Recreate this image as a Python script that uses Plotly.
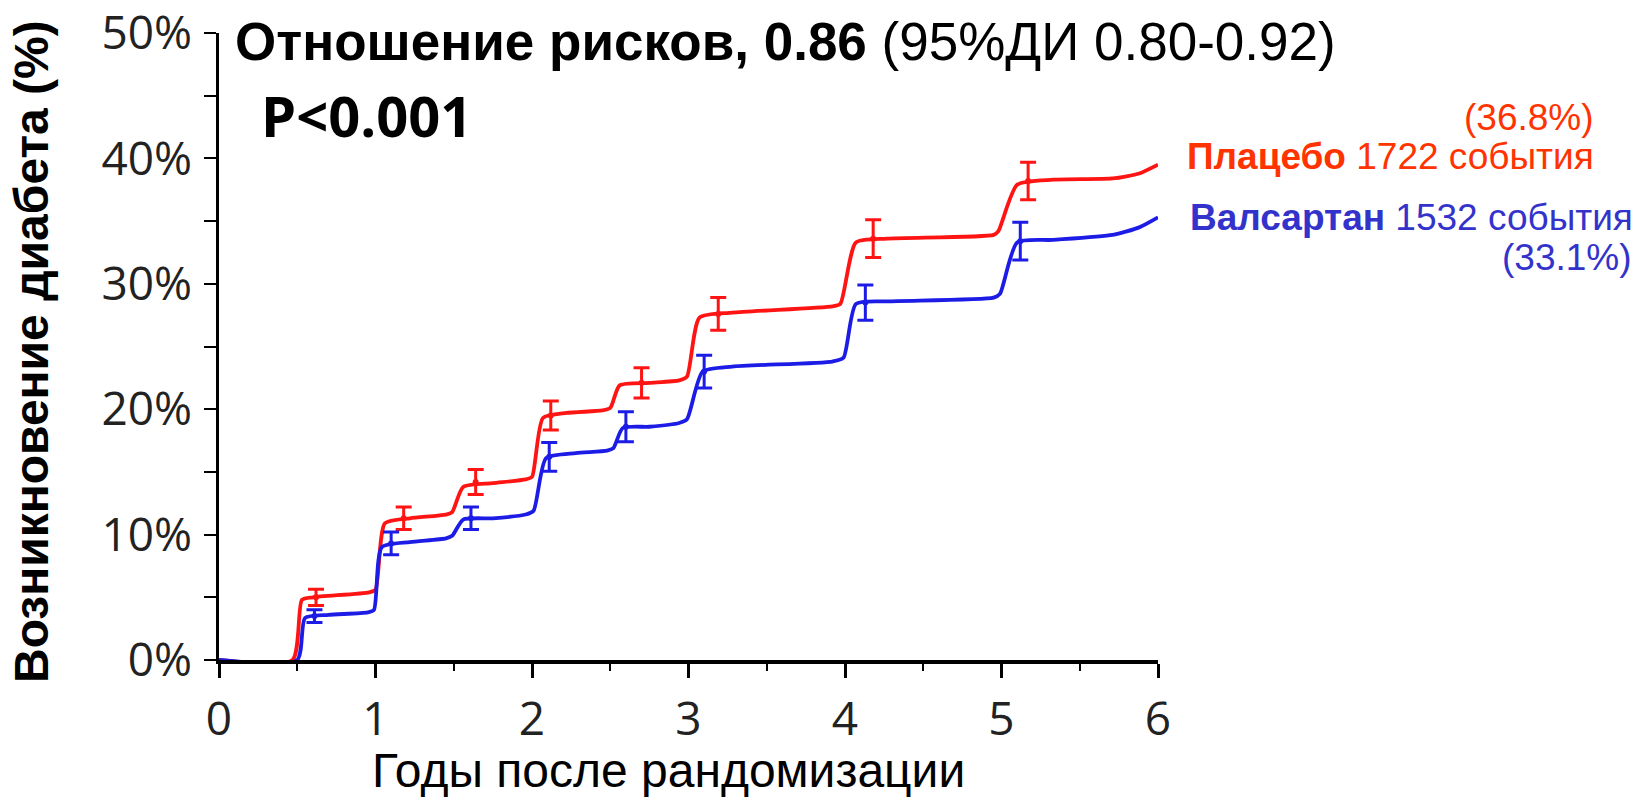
import plotly.graph_objects as go

# ---- data ----
placebo_years = [0, 0.47, 0.53, 0.60, 0.96, 1.00, 1.06, 1.22, 1.45, 1.49, 1.56, 1.75, 1.96, 2.00,
                 2.07, 2.22, 2.45, 2.50, 2.56, 2.75, 2.94, 2.99, 3.07, 3.28, 3.92, 3.97, 4.07,
                 4.27, 4.95, 4.98, 5.10, 5.33, 5.71, 5.88, 6.00]
placebo_pct = [0, 0, 4.8, 5.0, 5.4, 5.6, 10.9, 11.3, 11.6, 11.8, 13.8, 14.1, 14.4, 14.6,
               19.3, 19.7, 19.9, 20.1, 21.9, 22.1, 22.3, 22.6, 27.3, 27.7, 28.2, 28.4, 33.3,
               33.6, 33.9, 34.2, 37.9, 38.3, 38.4, 38.8, 39.5]

valsartan_years = [0, 0.50, 0.55, 0.70, 0.95, 0.99, 1.04, 1.22, 1.45, 1.49, 1.56, 1.75, 1.96, 2.01,
                   2.09, 2.28, 2.48, 2.52, 2.58, 2.75, 2.94, 2.99, 3.09, 3.28, 3.92, 3.99, 4.07,
                   4.27, 4.95, 4.99, 5.10, 5.33, 5.71, 5.88, 6.00]
valsartan_pct = [0, 0, 3.35, 3.6, 3.8, 4.0, 9.0, 9.4, 9.7, 9.9, 11.2, 11.3, 11.6, 11.9,
                 16.1, 16.5, 16.7, 16.9, 18.5, 18.6, 18.9, 19.2, 23.0, 23.4, 23.8, 24.1, 28.4,
                 28.6, 28.9, 29.2, 33.3, 33.5, 33.9, 34.5, 35.3]

placebo_ci_years = [0.62, 1.18, 1.64, 2.12, 2.70, 3.19, 4.18, 5.17]
placebo_ci_pct = [5.0, 11.3, 14.2, 19.5, 22.1, 27.6, 33.6, 38.2]
placebo_ci_half = [0.65, 0.9, 1.0, 1.15, 1.2, 1.3, 1.5, 1.5]

valsartan_ci_years = [0.61, 1.10, 1.61, 2.11, 2.60, 3.10, 4.13, 5.12]
valsartan_ci_pct = [3.5, 9.3, 11.3, 16.2, 18.6, 23.0, 28.5, 33.4]
valsartan_ci_half = [0.5, 0.9, 0.9, 1.15, 1.2, 1.3, 1.4, 1.5]

x_ticks = [0, 1, 2, 3, 4, 5, 6]
y_ticks = [0, 10, 20, 30, 40, 50]
y_tick_labels = ["0%", "10%", "20%", "30%", "40%", "50%"]

RED = "#ff1414"
BLUE = "#1c1ce6"
RED_TXT = "#ff3300"
BLUE_TXT = "#3333cc"

W, H = 1637, 798
L, R, T, B = 219, 1158, 33, 660  # plot area in pixels


def px(x):
    return (x - L) / (R - L)


def py(y):
    return (B - y) / (B - T)


fig = go.Figure()

fig.add_trace(go.Scatter(x=placebo_years, y=placebo_pct, mode="lines",
                         line=dict(color=RED, width=3.8, shape="spline", smoothing=0.6),
                         showlegend=False, cliponaxis=False))
fig.add_trace(go.Scatter(x=valsartan_years, y=valsartan_pct, mode="lines",
                         line=dict(color=BLUE, width=3.8, shape="spline", smoothing=0.6),
                         showlegend=False, cliponaxis=False))
fig.add_trace(go.Scatter(x=placebo_ci_years, y=placebo_ci_pct, mode="markers",
                         marker=dict(size=0, color=RED),
                         error_y=dict(type="data", array=placebo_ci_half, visible=True,
                                      color=RED, thickness=3, width=8),
                         showlegend=False))
fig.add_trace(go.Scatter(x=valsartan_ci_years, y=valsartan_ci_pct, mode="markers",
                         marker=dict(size=0, color=BLUE),
                         error_y=dict(type="data", array=valsartan_ci_half, visible=True,
                                      color=BLUE, thickness=3, width=8),
                         showlegend=False))

tick_font = dict(family="Open Sans", size=46, color="#222222")

fig.update_xaxes(range=[0, 6], tickvals=x_ticks, ticktext=[str(v) for v in x_ticks],
                 showline=True, linecolor="black", linewidth=3.5, ticks="outside",
                 ticklen=14, tickwidth=2.5, tickcolor="black", showgrid=False, zeroline=False,
                 tickfont=tick_font, ticklabelstandoff=2, automargin=False,
                 minor=dict(dtick=0.5, ticks="outside", ticklen=7, tickwidth=2, tickcolor="black",
                            showgrid=False))
fig.update_yaxes(range=[0, 50], tickvals=y_ticks, ticktext=y_tick_labels,
                 showline=True, linecolor="black", linewidth=2.5, ticks="outside",
                 ticklen=12, tickwidth=2, tickcolor="black", showgrid=False, zeroline=False,
                 tickfont=tick_font, ticklabelstandoff=3, automargin=False,
                 minor=dict(dtick=5, ticks="outside", ticklen=12, tickwidth=2, tickcolor="black",
                            showgrid=False))

ann = []
ann.append(dict(x=px(233), y=py(42), xref="paper", yref="paper", xanchor="left", yanchor="middle",
                text="<b>Отношение рисков, 0.86</b> (95%ДИ 0.80-0.92)", showarrow=False,
                font=dict(family="Liberation Sans", size=53, color="black")))
ann.append(dict(x=px(259), y=py(115), xref="paper", yref="paper", xanchor="left", yanchor="middle",
                text="<b>P<0.001</b>", showarrow=False,
                font=dict(family="Open Sans", size=56, color="black")))
ann.append(dict(x=px(31), y=py(352), xref="paper", yref="paper", xanchor="center", yanchor="middle",
                text="<b>Возникновение диабета (%)</b>", textangle=-90, showarrow=False,
                font=dict(family="Liberation Sans", size=48, color="black")))
ann.append(dict(x=px(668), y=py(770), xref="paper", yref="paper", xanchor="center", yanchor="middle",
                text="Годы после рандомизации", showarrow=False,
                font=dict(family="Liberation Sans", size=48, color="black")))
ann.append(dict(x=px(1596), y=py(117), xref="paper", yref="paper", xanchor="right", yanchor="middle",
                text="(36.8%)", showarrow=False,
                font=dict(family="Liberation Sans", size=37, color=RED_TXT)))
ann.append(dict(x=px(1596), y=py(156), xref="paper", yref="paper", xanchor="right", yanchor="middle",
                text="<b>Плацебо</b> 1722 события", showarrow=False,
                font=dict(family="Liberation Sans", size=37, color=RED_TXT)))
ann.append(dict(x=px(1188), y=py(217), xref="paper", yref="paper", xanchor="left", yanchor="middle",
                text="<b>Валсартан</b> 1532 события", showarrow=False,
                font=dict(family="Liberation Sans", size=37, color=BLUE_TXT)))
ann.append(dict(x=px(1634), y=py(257), xref="paper", yref="paper", xanchor="right", yanchor="middle",
                text="(33.1%)", showarrow=False,
                font=dict(family="Liberation Sans", size=37, color=BLUE_TXT)))

fig.update_layout(width=W, height=H, margin=dict(l=L, r=W - R, t=T, b=H - B, pad=0, autoexpand=False),
                  paper_bgcolor="white", plot_bgcolor="white", annotations=ann,
                  showlegend=False)

fig.write_html("out.html")
